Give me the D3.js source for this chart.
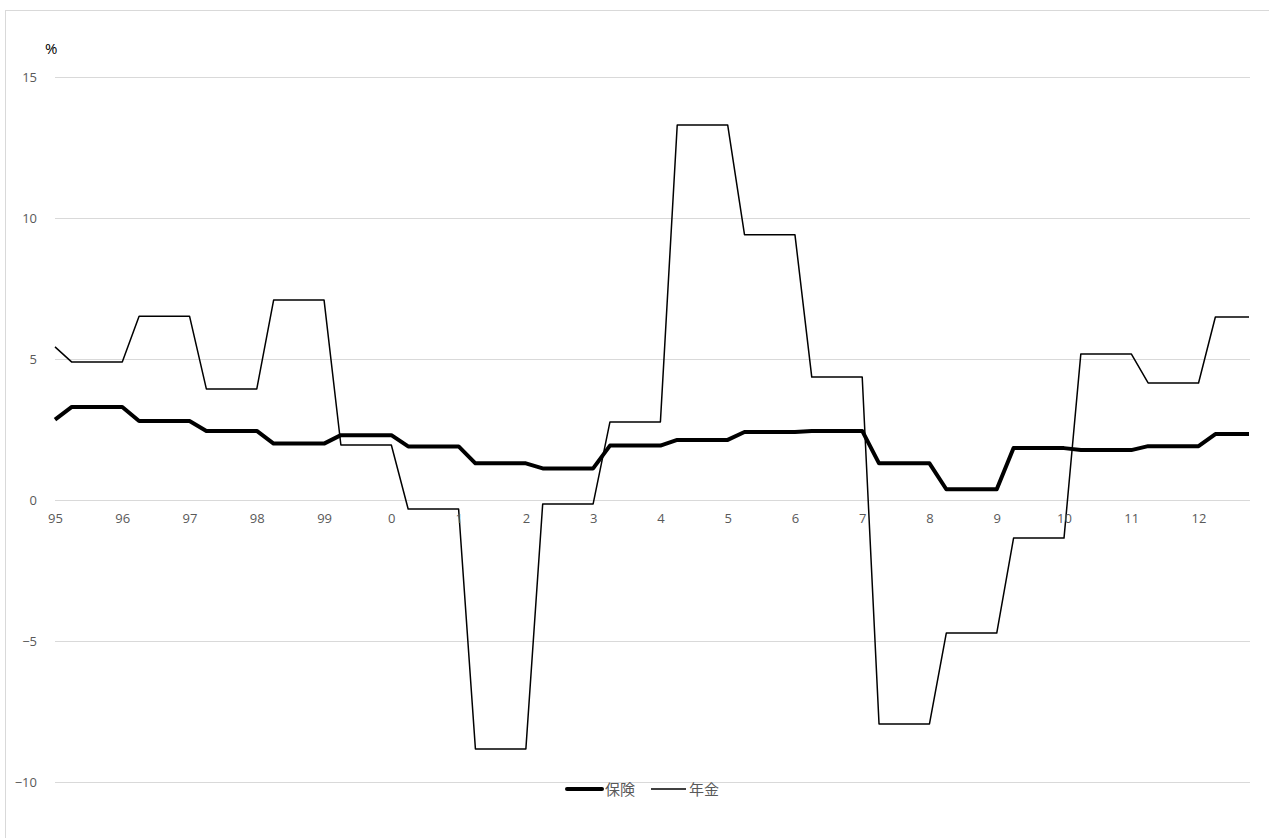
<!DOCTYPE html>
<html>
<head>
<meta charset="utf-8">
<script src="https://cdn.jsdelivr.net/npm/d3@7/dist/d3.min.js"></script>
<style>
  html, body { margin: 0; padding: 0; background: #fff; }
  svg { display: block; font-family: "Noto Sans CJK JP", "Noto Sans", sans-serif; }
</style>
</head>
<body>
<svg id="chart" width="1269" height="838"></svg>
<script>
// Year tick labels (one per year, first quarter)
const years = ["95","96","97","98","99","0","1","2","3","4","5","6","7","8","9","10","11","12"];
// Quarterly categories, 1995Q1 – 2012Q4
const quarters = years.flatMap(y => [1, 2, 3, 4].map(q => y + "Q" + q));

// 保険 (insurance), % — quarterly
const insurance = [
  2.85, 3.3, 3.3, 3.3,
  3.3, 2.8, 2.8, 2.8,
  2.8, 2.45, 2.45, 2.45,
  2.45, 2.0, 2.0, 2.0,
  2.0, 2.3, 2.3, 2.3,
  2.3, 1.9, 1.9, 1.9,
  1.9, 1.3, 1.3, 1.3,
  1.3, 1.12, 1.12, 1.12,
  1.12, 1.93, 1.93, 1.93,
  1.93, 2.13, 2.13, 2.13,
  2.13, 2.41, 2.41, 2.41,
  2.41, 2.45, 2.45, 2.45,
  2.45, 1.3, 1.3, 1.3,
  1.3, 0.38, 0.38, 0.38,
  0.38, 1.84, 1.84, 1.84,
  1.84, 1.77, 1.77, 1.77,
  1.77, 1.91, 1.91, 1.91,
  1.91, 2.34, 2.34, 2.34
];

// 年金 (pension), % — quarterly
const pension = [
  5.43, 4.89, 4.89, 4.89,
  4.89, 6.52, 6.52, 6.52,
  6.52, 3.94, 3.94, 3.94,
  3.94, 7.09, 7.09, 7.09,
  7.09, 1.95, 1.95, 1.95,
  1.95, -0.32, -0.32, -0.32,
  -0.32, -8.83, -8.83, -8.83,
  -8.83, -0.14, -0.14, -0.14,
  -0.14, 2.77, 2.77, 2.77,
  2.77, 13.3, 13.3, 13.3,
  13.3, 9.41, 9.41, 9.41,
  9.41, 4.36, 4.36, 4.36,
  4.36, -7.94, -7.94, -7.94,
  -7.94, -4.72, -4.72, -4.72,
  -4.72, -1.35, -1.35, -1.35,
  -1.35, 5.18, 5.18, 5.18,
  5.18, 4.15, 4.15, 4.15,
  4.15, 6.49, 6.49, 6.49
];

const yTicks = [-10, -5, 0, 5, 10, 15];
const seriesNames = ["保険", "年金"];

const svg = d3.select("#chart");
const labelColor = "#595959";
const gridColor = "#d9d9d9";
const labelFont = "'Open Sans', 'Noto Sans', sans-serif";

// Chart frame
svg.append("rect")
  .attr("x", 5.5).attr("y", 10.5)
  .attr("width", 1280).attr("height", 840)
  .attr("fill", "#fff")
  .attr("stroke", gridColor).attr("stroke-width", 1);

const x = d3.scalePoint().domain(quarters).range([55, 1249]);
const y = d3.scaleLinear().domain([-10, 15]).range([782, 77]);

// Horizontal gridlines
svg.append("g")
  .selectAll("line")
  .data(yTicks)
  .join("line")
  .attr("x1", 55).attr("x2", 1250)
  .attr("y1", d => Math.round(y(d)) + 0.5)
  .attr("y2", d => Math.round(y(d)) + 0.5)
  .attr("stroke", gridColor)
  .attr("stroke-width", 1);

// Series lines
const line = d3.line().x((d, i) => x(quarters[i])).y(d => y(d));

svg.append("path")
  .datum(pension)
  .attr("d", line)
  .attr("fill", "none")
  .attr("stroke", "#000")
  .attr("stroke-width", 1.5)
  .attr("stroke-linejoin", "round");

svg.append("path")
  .datum(insurance)
  .attr("d", line)
  .attr("fill", "none")
  .attr("stroke", "#000")
  .attr("stroke-width", 4)
  .attr("stroke-linejoin", "round");

// Y axis labels
const yAxis = d3.axisLeft(y).tickValues(yTicks).tickSize(0).tickPadding(0);
svg.append("g")
  .attr("transform", "translate(37,0)")
  .call(yAxis)
  .call(g => g.select(".domain").remove())
  .call(g => g.selectAll("text")
    .attr("fill", labelColor)
    .style("font-size", "13px")
    .style("font-family", labelFont));

// X axis labels (one per year, placed under the first quarter)
const xAxis = d3.axisBottom(x)
  .tickValues(quarters.filter((q, i) => i % 4 === 0))
  .tickFormat(q => q.replace(/Q\d$/, ""))
  .tickSize(0).tickPadding(0);
svg.append("g")
  .attr("transform", "translate(0,514)")
  .call(xAxis)
  .call(g => g.select(".domain").remove())
  .call(g => g.selectAll("text")
    .attr("fill", labelColor)
    .style("font-size", "13px")
    .style("font-family", labelFont));

// Unit label
svg.append("text")
  .attr("x", 45).attr("y", 54)
  .attr("fill", "#000")
  .style("font-size", "15px")
  .style("font-family", labelFont)
  .text("%");

// Legend
const legend = svg.append("g").attr("transform", "translate(0,789)");
const legendItems = [
  { name: seriesNames[0], x: 567, w: 4, cap: "round" },
  { name: seriesNames[1], x: 651, w: 1.5, cap: "butt" }
];
legendItems.forEach(it => {
  legend.append("line")
    .attr("x1", it.x).attr("x2", it.x + 35)
    .attr("y1", 0).attr("y2", 0)
    .attr("stroke", "#000")
    .attr("stroke-width", it.w)
    .attr("stroke-linecap", it.cap);
  legend.append("text")
    .attr("x", it.x + 38).attr("y", 5.5)
    .attr("fill", labelColor)
    .style("font-size", "15px")
    .text(it.name);
});
</script>
</body>
</html>
